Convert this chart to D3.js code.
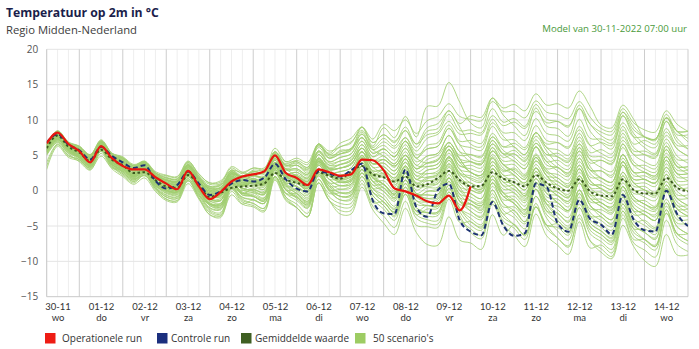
<!DOCTYPE html>
<html><head><meta charset="utf-8">
<script src="https://cdn.jsdelivr.net/npm/d3@7"></script>
<style>
body{margin:0;background:#fff;}
svg text{font-family:'Open Sans',sans-serif;}
</style>
</head><body>
<svg id="chart" width="699" height="349"></svg>
<script>
// ---------------- DATA ----------------
const titleText = "Temperatuur op 2m in °C";
const subtitleText = "Regio Midden-Nederland";
const modelText = "Model van 30-11-2022 07:00 uur";
const dayLabels = ["30-11","01-12","02-12","03-12","04-12","05-12","06-12","07-12","08-12","09-12","10-12","11-12","12-12","13-12","14-12"];
const weekdayLabels = ["wo","do","vr","za","zo","ma","di","wo","do","vr","za","zo","ma","di","wo"];
const yTicks = [-15,-10,-5,0,5,10,15,20];
const legendLabels = ["Operationele run","Controle run","Gemiddelde waarde","50 scenario's"];
// values every 6 hours, starting 30-11 06:00
const operationalRun = [6.7,8.2,6.6, 5.6,4.0,6.3,4.6, 3.5,3.0,3.0,1.9, 1.0,0.2,2.8,0.6, -1.2,-0.2,1.3,2.0, 2.3,2.7,5.0,2.5, 1.8,0.8,3.0,2.6, 2.1,2.3,4.4,4.3, 2.9,0.3,-0.1,-0.7, -1.5,-1.8,-0.7,-2.8, 0.6];
const controlRun = [6.8,8.0,6.5, 5.7,4.4,6.2,4.9, 4.0,3.2,3.6,1.4, 0.3,0.8,2.7,1.0, -0.6,-0.1,1.0,1.5, 1.3,1.8,3.8,1.6, 0.3,-0.1,2.8,2.4, 2.0,2.9,3.8,-1.4, -3.2,-3.3,3.0,-2.3, -3.7,0.1,1.0,-4.2, -5.8,-6.3,-1.6,-4.9, -6.4,-6.0,1.0,0.5, -4.6,-5.8,-1.3,-4.0, -4.8,-6.2,-0.6,-4.1, -5.6,-5.8,0.0,-3.3, -5.0];
const meanValues = [6.0,7.8,6.2, 5.4,4.2,5.8,4.4, 3.6,2.5,2.6,1.5, 0.6,0.4,2.2,0.8, -0.9,-0.3,0.4,0.6, 0.7,1.0,2.5,1.6, 1.1,0.8,2.6,2.1, 1.7,2.7,3.5,2.3, 1.9,1.3,2.0,0.6, 0.9,1.8,2.8,1.5, 0.6,0.7,2.6,1.7, 1.2,0.6,2.2,1.1, 0.3,0.0,1.6,-0.1, -0.7,-0.8,1.6,0.1, -0.4,-0.4,1.8,0.4, -0.1];
const scenarios = [
[6.3,8.1,6.5, 5.9,4.7,6.8,4.9, 4.4,3.3,3.9,2.3, 1.6,1.4,3.7,1.8, 0.3,0.4,2.6,1.8, 2.2,2.0,5.0,3.1, 3.1,2.3,5.6,4.1, 4.7,5.2,7.5,5.3, 5.9,4.8,7.0,4.6, 5.9,6.3,8.8,6.5, 6.1,5.7,9.1,7.2, 7.2,6.1,9.2,7.1, 6.8,6.0,9.1,6.4, 5.3,4.7,8.6,6.1, 5.1,4.6,8.3,5.9, 4.9],
[5.6,7.4,5.8, 4.8,3.6,6.2,3.8, 2.6,1.5,2.6,0.5, -0.9,-1.1,1.7,-0.7, -2.9,-3.3,0.4,-1.4, -1.8,-2.5,2.0,-0.9, -1.9,-3.2,1.6,-0.9, -1.8,-1.8,2.0,-1.2, -2.6,-4.2,-0.5,-3.9, -4.6,-4.7,-0.7,-4.0, -5.4,-6.3,-1.4,-4.3, -5.3,-6.9,-2.3,-5.4, -6.7,-8.0,-3.4,-7.1, -8.2,-9.3,-3.9,-7.4, -8.4,-9.4,-4.2,-7.6, -8.6],
[6.2,8.0,6.4, 5.7,4.5,6.9,4.7, 4.1,3.0,3.9,2.0, 1.1,0.9,3.5,1.3, -0.1,-0.3,2.7,1.4, 2.2,1.7,5.5,3.1, 3.6,2.5,6.6,4.6, 5.7,5.9,9.0,6.3, 8.9,7.5,10.5,7.6, 11.9,12.0,15.3,12.5, 9.6,8.9,13.1,10.7, 9.2,7.8,11.7,9.1, 8.8,7.7,11.6,8.4, 6.8,5.9,10.6,7.6, 6.1,5.3,9.8,6.9, 5.9],
[5.8,7.6,6.0, 5.1,3.9,6.0,4.1, 3.8,2.7,3.3,1.7, 1.1,0.9,3.2,1.3, -0.1,0.0,2.2,1.4, 1.2,1.0,4.0,2.1, 1.1,0.3,3.6,2.1, 1.2,1.7,4.0,1.8, 0.9,-0.2,2.0,-0.4, -1.1,-0.7,1.8,-0.5, -1.9,-2.3,1.1,-0.8, -1.8,-2.9,0.2,-1.9, -2.2,-3.0,0.1,-2.6, -2.7,-3.3,0.6,-1.9, -2.9,-3.4,0.3,-2.1, -3.1],
[6.5,8.3,6.7, 6.2,5.0,6.9,5.2, 4.6,3.5,3.9,2.5, 1.8,1.6,3.7,2.0, 0.6,0.9,2.4,2.1, 2.7,2.7,5.0,3.6, 3.6,3.0,5.6,4.6, 5.2,5.9,7.5,5.8, 6.9,6.0,7.5,5.6, 7.4,8.0,9.8,8.0, 8.1,7.9,10.6,9.2, 9.7,8.8,11.2,9.6, 9.8,9.2,11.6,9.4, 8.3,7.9,11.1,9.1, 7.6,7.3,10.3,8.4, 7.4],
[4.0,6.6,5.0, 4.4,3.2,5.6,3.4, 2.4,1.3,2.2,0.3, -0.9,-1.1,1.5,-0.7, -1.9,-2.1,0.9,-0.4, 0.2,-0.3,3.5,1.1, 1.1,0.0,4.1,2.1, 2.2,2.4,5.5,2.8, 2.9,1.5,4.5,1.6, 2.4,2.5,5.8,3.0, 2.6,1.9,6.1,3.7, 3.7,2.3,6.2,3.6, 3.3,2.2,6.1,2.9, 2.8,1.9,6.6,3.6, 2.6,1.8,6.3,3.4, 2.4],
[6.4,8.2,6.6, 5.6,4.4,7.0,4.6, 3.6,2.5,3.6,1.5, 0.3,0.1,2.9,0.5, -1.4,-1.8,1.9,0.1, -0.3,-1.0,3.5,0.6, -0.4,-1.7,3.1,0.6, -0.3,-0.3,3.5,0.3, -0.6,-2.2,1.5,-1.9, -2.1,-2.2,1.8,-1.5, -2.9,-3.8,1.1,-1.8, -2.8,-4.4,0.2,-2.9, -4.2,-5.5,-0.9,-4.6, -5.7,-6.8,-1.4,-4.9, -5.9,-6.9,-1.7,-5.1, -6.1],
[5.5,7.3,5.7, 4.6,3.4,6.0,3.6, 2.4,1.3,2.4,0.3, -1.2,-1.4,1.4,-1.0, -3.4,-3.8,-0.1,-1.9, -2.3,-3.0,1.5,-1.4, -2.4,-3.7,1.1,-1.4, -2.8,-2.8,1.0,-2.2, -3.6,-5.2,-1.5,-4.9, -5.1,-5.2,-1.2,-4.5, -4.4,-5.3,-0.4,-3.3, -2.8,-4.4,0.2,-2.9, -3.2,-4.5,0.1,-3.6, -3.7,-4.8,0.6,-2.9, -4.4,-5.4,-0.2,-3.6, -5.1],
[6.6,8.4,6.8, 6.2,5.0,7.1,5.2, 4.1,3.0,3.6,2.0, 0.9,0.7,3.0,1.1, -0.3,-0.2,2.0,1.2, 1.7,1.5,4.5,2.6, 1.6,0.8,4.1,2.6, 1.7,2.2,4.5,2.3, 2.4,1.3,3.5,1.1, 1.9,2.3,4.8,2.5, 2.1,1.7,5.1,3.2, 2.2,1.1,4.2,2.1, 0.8,0.0,3.1,0.4, -0.7,-1.3,2.6,0.1, 0.1,-0.4,3.3,0.9, 0.9],
[6.0,7.8,6.2, 5.2,4.0,6.1,4.2, 3.1,2.0,2.6,1.0, 0.1,-0.1,2.2,0.3, -0.9,-0.8,1.4,0.6, 1.2,1.0,4.0,2.1, 2.1,1.3,4.6,3.1, 3.7,4.2,6.5,4.3, 4.9,3.8,6.0,3.6, 4.9,5.3,7.8,5.5, 4.1,3.7,7.1,5.2, 4.2,3.1,6.2,4.1, 4.3,3.5,6.6,3.9, 4.3,3.7,7.6,5.1, 4.1,3.6,7.3,4.9, 3.9],
[5.2,7.0,5.4, 4.9,3.7,6.1,3.9, 3.4,2.3,3.2,1.3, 0.6,0.4,3.0,0.8, -1.2,-1.4,1.6,0.3, -0.1,-0.6,3.2,0.8, -0.4,-1.5,2.6,0.6, -0.8,-0.6,2.5,-0.2, -1.6,-3.0,0.0,-2.9, -3.6,-3.5,-0.2,-3.0, -4.9,-5.6,-1.4,-3.8, -4.8,-6.2,-2.3,-4.9, -5.2,-6.3,-2.4,-5.6, -6.7,-7.6,-2.9,-5.9, -6.9,-7.7,-3.2,-6.1, -7.1],
[6.2,8.0,6.4, 5.8,4.6,6.7,4.8, 4.4,3.3,3.9,2.3, 1.8,1.6,3.9,2.0, 0.9,1.0,3.2,2.4, 3.2,3.0,6.0,4.1, 4.1,3.3,6.6,5.1, 5.2,5.7,8.0,5.8, 4.9,3.8,6.0,3.6, 3.4,3.8,6.3,4.0, 2.6,2.2,5.6,3.7, 2.7,1.6,4.7,2.6, 1.3,0.5,3.6,0.9, 0.8,0.2,4.1,1.6, 1.6,1.1,4.8,2.4, 2.4],
[5.7,7.5,5.9, 5.4,4.2,6.6,4.4, 3.9,2.8,3.7,1.8, 1.2,1.0,3.6,1.4, 0.1,-0.1,2.9,1.6, 1.5,1.0,4.8,2.4, 1.4,0.3,4.4,2.4, 1.4,1.6,4.7,2.0, 0.9,-0.5,2.5,-0.4, -0.6,-0.5,2.8,0.0, -0.4,-1.1,3.1,0.7, 0.7,-0.7,3.2,0.6, 0.3,-0.8,3.1,-0.1, -0.2,-1.1,3.6,0.6, 0.6,-0.2,4.3,1.4, 1.4],
[6.1,7.9,6.3, 5.1,3.9,6.3,4.1, 3.0,1.9,2.8,0.9, -0.4,-0.6,2.0,-0.2, -2.4,-2.6,0.4,-0.9, -1.3,-1.8,2.0,-0.4, -0.9,-2.0,2.1,0.1, 0.2,0.4,3.5,0.8, 0.9,-0.5,2.5,-0.4, 0.4,0.5,3.8,1.0, -0.4,-1.1,3.1,0.7, -0.3,-1.7,2.2,-0.4, -1.7,-2.8,1.1,-2.1, -3.2,-4.1,0.6,-2.4, -3.4,-4.2,0.3,-2.6, -3.6],
[3.0,6.3,4.7, 4.2,3.0,4.9,3.2, 2.8,1.7,2.1,0.7, 0.1,-0.1,2.0,0.3, -0.9,-0.6,0.9,0.6, 1.2,1.2,3.5,2.1, 2.1,1.5,4.1,3.1, 3.2,3.9,5.5,3.8, 4.4,3.5,5.0,3.1, 4.4,5.0,6.8,5.0, 5.1,4.9,7.6,6.2, 6.7,5.8,8.2,6.6, 6.8,6.2,8.6,6.4, 6.8,6.4,9.6,7.6, 7.6,7.3,10.3,8.4, 8.4],
[6.5,8.3,6.7, 5.7,4.5,6.6,4.7, 3.6,2.5,3.1,1.5, 0.4,0.2,2.5,0.6, -0.7,-0.6,1.6,0.8, 1.5,1.3,4.3,2.4, 2.6,1.8,5.1,3.6, 4.2,4.7,7.0,4.8, 5.9,4.8,7.0,4.6, 6.4,6.8,9.3,7.0, 7.1,6.7,10.1,8.2, 8.2,7.1,10.2,8.1, 7.8,7.0,10.1,7.4, 7.3,6.7,10.6,8.1, 6.6,6.1,9.8,7.4, 5.9],
[5.4,7.2,5.6, 4.6,3.4,5.8,3.6, 3.0,1.9,2.8,0.9, 0.3,0.1,2.7,0.5, -1.7,-1.9,1.1,-0.2, -0.8,-1.3,2.5,0.1, -0.9,-2.0,2.1,0.1, -1.3,-1.1,2.0,-0.7, -2.1,-3.5,-0.5,-3.4, -2.6,-2.5,0.8,-2.0, -1.9,-2.6,1.6,-0.8, -0.8,-2.2,1.7,-0.9, -1.2,-2.3,1.6,-1.6, -1.7,-2.6,2.1,-0.9, -1.9,-2.7,1.8,-1.1, -2.1],
[6.3,8.1,6.5, 6.0,4.8,6.9,5.0, 4.5,3.4,4.0,2.4, 1.2,1.0,3.3,1.4, -0.6,-0.5,1.7,0.9, 0.7,0.5,3.5,1.6, 0.6,-0.2,3.1,1.6, 0.7,1.2,3.5,1.3, 0.4,-0.7,1.5,-0.9, -0.1,0.3,2.8,0.5, 0.1,-0.3,3.1,1.2, 1.2,0.1,3.2,1.1, 0.8,0.0,3.1,0.4, 0.3,-0.3,3.6,1.1, 0.1,-0.4,3.3,0.9, -0.1],
[5.8,7.6,6.0, 5.0,3.8,6.4,4.0, 2.8,1.7,2.8,0.7, -0.6,-0.8,2.0,-0.4, -2.7,-3.1,0.6,-1.2, -1.8,-2.5,2.0,-0.9, -2.4,-3.7,1.1,-1.4, -3.3,-3.3,0.5,-2.7, -4.6,-6.2,-2.5,-5.9, -7.6,-7.7,-3.7,-7.0, -7.4,-8.3,-3.4,-6.3, -4.8,-6.4,-1.8,-4.9, -4.7,-6.0,-1.4,-5.1, -6.2,-7.3,-1.9,-5.4, -6.9,-7.9,-2.7,-6.1, -7.1],
[6.2,8.0,6.4, 5.9,4.7,6.8,4.9, 4.6,3.5,4.1,2.5, 2.1,1.9,4.2,2.3, 1.1,1.2,3.4,2.6, 2.2,2.0,5.0,3.1, 2.1,1.3,4.6,3.1, 3.2,3.7,6.0,3.8, 4.4,3.3,5.5,3.1, 3.9,4.3,6.8,4.5, 2.6,2.2,5.6,3.7, 2.2,1.1,4.2,2.1, 0.3,-0.5,2.6,-0.1, -1.7,-2.3,1.6,-0.9, -1.9,-2.4,1.3,-1.1, -2.1],
[5.6,7.4,5.8, 5.2,4.0,6.1,4.2, 3.8,2.7,3.3,1.7, 1.2,1.0,3.3,1.4, 0.3,0.4,2.6,1.8, 2.7,2.5,5.5,3.6, 4.1,3.3,6.6,5.1, 6.2,6.7,9.0,6.8, 7.9,6.8,9.0,6.6, 7.9,8.3,10.8,8.5, 8.6,8.2,11.6,9.7, 10.2,9.1,12.2,10.1, 9.8,9.0,12.1,9.4, 7.8,7.2,11.1,8.6, 7.6,7.1,10.8,8.4, 8.4],
[6.0,7.8,6.2, 5.6,4.4,6.5,4.6, 3.9,2.8,3.4,1.8, 0.7,0.5,2.8,0.9, -1.2,-1.1,1.1,0.3, 0.1,-0.1,2.9,1.0, 0.1,-0.7,2.6,1.1, 0.2,0.7,3.0,0.8, -0.1,-1.2,1.0,-1.4, -1.6,-1.2,1.3,-1.0, -1.4,-1.8,1.6,-0.3, -0.3,-1.4,1.7,-0.4, -0.7,-1.5,1.6,-1.1, -2.2,-2.8,1.1,-1.4, -2.4,-2.9,0.8,-1.6, -2.6],
[5.0,6.8,5.2, 4.1,2.9,5.3,3.1, 2.0,0.9,1.8,-0.1, -1.4,-1.6,1.0,-1.2, -3.4,-3.6,-0.6,-1.9, -1.3,-1.8,2.0,-0.4, -0.4,-1.5,2.6,0.6, 0.7,0.9,4.0,1.3, 1.4,0.0,3.0,0.1, 0.9,1.0,4.3,1.5, 1.1,0.4,4.6,2.2, 2.2,0.8,4.7,2.1, 1.8,0.7,4.6,1.4, 0.3,-0.6,4.1,1.1, 0.1,-0.7,3.8,0.9, -0.1],
[6.7,8.5,6.9, 6.3,5.1,7.2,5.3, 4.7,3.6,4.2,2.6, 1.4,1.2,3.5,1.6, -0.4,-0.3,1.9,1.1, 0.9,0.7,3.7,1.8, 1.6,0.8,4.1,2.6, 2.7,3.2,5.5,3.3, 3.4,2.3,4.5,2.1, 2.9,3.3,5.8,3.5, 3.1,2.7,6.1,4.2, 4.2,3.1,6.2,4.1, 2.8,2.0,5.1,2.4, 1.3,0.7,4.6,2.1, 2.1,1.6,5.3,2.9, 2.9],
[5.7,7.5,5.9, 4.9,3.7,6.1,3.9, 3.3,2.2,3.1,1.2, 0.6,0.4,3.0,0.8, -0.4,-0.6,2.4,1.1, 1.7,1.2,5.0,2.6, 1.6,0.5,4.6,2.6, 1.2,1.4,4.5,1.8, 0.4,-1.0,2.0,-0.9, -1.6,-1.5,1.8,-1.0, -2.9,-3.6,0.6,-1.8, -3.3,-4.7,-0.8,-3.4, -4.7,-5.8,-1.9,-5.1, -6.2,-7.1,-2.4,-5.4, -5.4,-6.2,-1.7,-4.6, -4.6],
[6.1,7.9,6.3, 5.5,4.3,6.4,4.5, 3.4,2.3,2.9,1.3, 0.1,-0.1,2.2,0.3, -1.9,-1.8,0.4,-0.4, -0.3,-0.5,2.5,0.6, 0.6,-0.2,3.1,1.6, 1.7,2.2,4.5,2.3, 2.9,1.8,4.0,1.6, 2.9,3.3,5.8,3.5, 3.6,3.2,6.6,4.7, 5.2,4.1,7.2,5.1, 5.3,4.5,7.6,4.9, 4.8,4.2,8.1,5.6, 5.6,5.1,8.8,6.4, 6.4],
[5.3,7.1,5.5, 4.4,3.2,5.8,3.4, 2.2,1.1,2.2,0.1, -1.2,-1.4,1.4,-1.0, -3.1,-3.5,0.2,-1.6, -2.1,-2.8,1.7,-1.2, -2.4,-3.7,1.1,-1.4, -2.3,-2.3,1.5,-1.7, -1.6,-3.2,0.5,-2.9, -2.1,-2.2,1.8,-1.5, -1.9,-2.8,2.1,-0.8, -1.8,-3.4,1.2,-1.9, -3.7,-5.0,-0.4,-4.1, -5.2,-6.3,-0.9,-4.4, -4.2,-5.2,0.0,-3.4, -3.6],
[6.4,8.2,6.6, 6.1,4.9,7.0,5.1, 4.6,3.5,4.1,2.5, 1.9,1.7,4.0,2.1, 0.1,0.2,2.4,1.6, 1.2,1.0,4.0,2.1, 1.1,0.3,3.6,2.1, 2.2,2.7,5.0,2.8, 2.9,1.8,4.0,1.6, 1.4,1.8,4.3,2.0, 0.6,0.2,3.6,1.7, 0.7,-0.4,2.7,0.6, -0.7,-1.5,1.6,-1.1, -1.2,-1.8,2.1,-0.4, -0.4,-0.9,2.8,0.4, 0.4],
[5.9,7.7,6.1, 5.5,4.3,6.4,4.5, 4.0,2.9,3.5,1.9, 1.4,1.2,3.5,1.6, 0.3,0.4,2.6,1.8, 2.5,2.3,5.3,3.4, 3.6,2.8,6.1,4.6, 5.2,5.7,8.0,5.8, 6.4,5.3,7.5,5.1, 5.9,6.3,8.8,6.5, 4.6,4.2,7.6,5.7, 4.7,3.6,6.7,4.6, 3.3,2.5,5.6,2.9, 1.8,1.2,5.1,2.6, 2.6,2.1,5.8,3.4, 3.4],
[6.3,8.1,6.5, 5.4,4.2,6.8,4.4, 3.2,2.1,3.2,1.1, -0.2,-0.4,2.4,0.0, -2.1,-2.5,1.2,-0.6, -0.8,-1.5,3.0,0.1, -0.9,-2.2,2.6,0.1, -0.8,-0.8,3.0,-0.2, -1.1,-2.7,1.0,-2.4, -3.1,-3.2,0.8,-2.5, -3.9,-4.8,0.1,-2.8, -3.8,-5.4,-0.8,-3.9, -5.7,-7.0,-2.4,-6.1, -7.2,-8.3,-2.9,-6.4, -7.4,-8.4,-3.2,-6.6, -7.6],
[5.5,7.3,5.7, 5.1,3.9,6.0,4.1, 3.6,2.5,3.1,1.5, 0.4,0.2,2.5,0.6, -1.5,-1.4,0.8,0.0, 0.4,0.2,3.2,1.3, 1.4,0.6,3.9,2.4, 2.7,3.2,5.5,3.3, 2.4,1.3,3.5,1.1, 0.9,1.3,3.8,1.5, 0.1,-0.3,3.1,1.2, 0.2,-0.9,2.2,0.1, -0.2,-1.0,2.1,-0.6, -0.7,-1.3,2.6,0.1, -0.9,-1.4,2.3,-0.1, -1.1],
[6.6,8.4,6.8, 5.8,4.6,6.5,4.8, 4.2,3.1,3.5,2.1, 1.5,1.3,3.4,1.7, 0.5,0.8,2.3,2.0, 2.9,2.9,5.2,3.8, 4.3,3.7,6.3,5.3, 6.7,7.4,9.0,7.3, 9.4,8.5,10.0,8.1, 9.9,10.5,12.3,10.5, 10.1,9.9,12.6,11.2, 11.2,10.3,12.7,11.1, 10.8,10.2,12.6,10.4, 8.8,8.4,11.6,9.6, 8.6,8.3,11.3,9.4, 8.4],
[5.8,7.6,6.0, 4.8,3.6,6.0,3.8, 2.6,1.5,2.4,0.5, -0.7,-0.9,1.7,-0.5, -2.5,-2.7,0.3,-1.0, -1.3,-1.8,2.0,-0.4, -1.4,-2.5,1.6,-0.4, -0.3,-0.1,3.0,0.3, 0.4,-1.0,2.0,-0.9, -0.1,0.0,3.3,0.5, -1.4,-2.1,2.1,-0.3, -1.8,-3.2,0.7,-1.9, -3.2,-4.3,-0.4,-3.6, -4.7,-5.6,-0.9,-3.9, -4.9,-5.7,-1.2,-4.1, -4.1],
[6.2,8.0,6.4, 5.7,4.5,6.6,4.7, 4.2,3.1,3.7,2.1, 1.5,1.3,3.6,1.7, -0.3,-0.2,2.0,1.2, 1.0,0.8,3.8,1.9, 1.9,1.1,4.4,2.9, 3.2,3.7,6.0,3.8, 3.9,2.8,5.0,2.6, 2.4,2.8,5.3,3.0, 1.6,1.2,4.6,2.7, 3.2,2.1,5.2,3.1, 3.3,2.5,5.6,2.9, 2.8,2.2,6.1,3.6, 3.6,3.1,6.8,4.4, 4.4],
[5.1,6.9,5.3, 4.7,3.5,5.9,3.7, 3.1,2.0,2.9,1.0, 0.4,0.2,2.8,0.6, -0.7,-0.9,2.1,0.8, 1.3,0.8,4.6,2.2, 2.1,1.0,5.1,3.1, 1.7,1.9,5.0,2.3, 0.9,-0.5,2.5,-0.4, -1.1,-1.0,2.3,-0.5, -0.9,-1.6,2.6,0.2, 0.2,-1.2,2.7,0.1, -1.7,-2.8,1.1,-2.1, -3.7,-4.6,0.1,-2.9, -2.9,-3.7,0.8,-2.1, -2.1],
[6.0,7.8,6.2, 5.7,4.5,6.9,4.7, 4.2,3.1,4.0,2.1, 0.8,0.6,3.2,1.0, -1.1,-1.3,1.7,0.4, 0.0,-0.5,3.3,0.9, -0.1,-1.2,2.9,0.9, -0.3,-0.1,3.0,0.3, -1.1,-2.5,0.5,-2.4, -3.1,-3.0,0.3,-2.5, -4.4,-5.1,-0.9,-3.3, -4.8,-6.2,-2.3,-4.9, -6.7,-7.8,-3.9,-7.1, -8.7,-9.6,-4.9,-7.9, -9.9,-10.7,-6.2,-9.1, -9.1],
[6.4,8.2,6.6, 6.0,4.8,6.9,5.0, 4.0,2.9,3.5,1.9, 1.2,1.0,3.3,1.4, 0.1,0.2,2.4,1.6, 2.0,1.8,4.8,2.9, 2.9,2.1,5.4,3.9, 4.2,4.7,7.0,4.8, 5.4,4.3,6.5,4.1, 4.9,5.3,7.8,5.5, 5.1,4.7,8.1,6.2, 6.2,5.1,8.2,6.1, 4.8,4.0,7.1,4.4, 3.3,2.7,6.6,4.1, 3.1,2.6,6.3,3.9, 2.9],
[5.4,7.2,5.6, 5.0,3.8,5.9,4.0, 3.5,2.4,3.0,1.4, 0.9,0.7,3.0,1.1, -0.1,0.0,2.2,1.4, 2.1,1.9,4.9,3.0, 3.1,2.3,5.6,4.1, 4.7,5.2,7.5,5.3, 5.9,4.8,7.0,4.6, 3.9,4.3,6.8,4.5, 2.6,2.2,5.6,3.7, 2.7,1.6,4.7,2.6, 2.3,1.5,4.6,1.9, 1.8,1.2,5.1,2.6, 2.6,2.1,5.8,3.4, 3.4],
[6.1,7.9,6.3, 5.3,4.1,6.5,4.3, 3.2,2.1,3.0,1.1, -0.1,-0.3,2.3,0.1, -1.9,-2.1,0.9,-0.4, 0.2,-0.3,3.5,1.1, 1.1,0.0,4.1,2.1, 1.2,1.4,4.5,1.8, 0.9,-0.5,2.5,-0.4, -0.6,-0.5,2.8,0.0, -1.4,-2.1,2.1,-0.3, -1.3,-2.7,1.2,-1.4, -2.7,-3.8,0.1,-3.1, -4.2,-5.1,-0.4,-3.4, -3.4,-4.2,0.3,-2.6, -2.6],
[5.7,7.5,5.9, 5.5,4.3,6.4,4.5, 4.1,3.0,3.6,2.0, 1.5,1.3,3.6,1.7, 0.4,0.5,2.7,1.9, 1.7,1.5,4.5,2.6, 1.7,0.9,4.2,2.7, 2.0,2.5,4.8,2.6, 1.9,0.8,3.0,0.6, 0.6,1.0,3.5,1.2, 0.6,0.2,3.6,1.7, 1.7,0.6,3.7,1.6, 1.3,0.5,3.6,0.9, 0.8,0.2,4.1,1.6, 1.6,1.1,4.8,2.4, 2.4],
[6.5,8.3,6.7, 5.6,4.4,7.0,4.6, 3.4,2.3,3.4,1.3, 0.0,-0.2,2.6,0.2, -1.9,-2.3,1.4,-0.4, -0.8,-1.5,3.0,0.1, -1.1,-2.4,2.4,-0.1, -1.3,-1.3,2.5,-0.7, -2.1,-3.7,0.0,-3.4, -4.1,-4.2,-0.2,-3.5, -5.9,-6.8,-1.9,-4.8, -6.3,-7.9,-3.3,-6.4, -7.7,-9.0,-4.4,-8.1, -7.7,-8.8,-3.4,-6.9, -6.9,-7.9,-2.7,-6.1, -6.1],
[5.9,7.7,6.1, 5.6,4.4,6.3,4.6, 4.1,3.0,3.4,2.0, 1.0,0.8,2.9,1.2, -0.7,-0.4,1.1,0.8, 1.3,1.3,3.6,2.2, 2.3,1.7,4.3,3.3, 3.7,4.4,6.0,4.3, 4.4,3.5,5.0,3.1, 3.9,4.5,6.3,4.5, 4.1,3.9,6.6,5.2, 5.2,4.3,6.7,5.1, 4.8,4.2,6.6,4.4, 4.3,3.9,7.1,5.1, 5.1,4.8,7.8,5.9, 4.9],
[3.5,6.5,4.9, 4.4,3.2,5.6,3.4, 2.9,1.8,2.7,0.8, -0.3,-0.5,2.1,-0.1, -2.1,-2.3,0.7,-0.6, -0.8,-1.3,2.5,0.1, 0.1,-1.0,3.1,1.1, 1.2,1.4,4.5,1.8, 1.9,0.5,3.5,0.6, 1.4,1.5,4.8,2.0, 0.6,-0.1,4.1,1.7, 0.7,-0.7,3.2,0.6, -0.7,-1.8,2.1,-1.1, -2.2,-3.1,1.6,-1.4, -1.4,-2.2,2.3,-0.6, -0.6],
[6.3,8.1,6.5, 5.9,4.7,6.8,4.9, 3.9,2.8,3.4,1.8, 0.6,0.4,2.7,0.8, -0.5,-0.4,1.8,1.0, 1.5,1.3,4.3,2.4, 2.6,1.8,5.1,3.6, 3.7,4.2,6.5,4.3, 3.4,2.3,4.5,2.1, 1.9,2.3,4.8,2.5, 1.1,0.7,4.1,2.2, 1.2,0.1,3.2,1.1, -0.2,-1.0,2.1,-0.6, -1.7,-2.3,1.6,-0.9, -1.9,-2.4,1.3,-1.1, -1.1],
[5.6,7.4,5.8, 4.8,3.6,6.0,3.8, 2.7,1.6,2.5,0.6, 0.0,-0.2,2.4,0.2, -1.2,-1.4,1.6,0.3, 0.7,0.2,4.0,1.6, 0.6,-0.5,3.6,1.6, 0.7,0.9,4.0,1.3, -0.1,-1.5,1.5,-1.4, -2.1,-2.0,1.3,-1.5, -2.4,-3.1,1.1,-1.3, -1.3,-2.7,1.2,-1.4, -1.7,-2.8,1.1,-2.1, -3.2,-4.1,0.6,-2.4, -3.4,-4.2,0.3,-2.6, -3.6],
[6.2,8.0,6.4, 5.8,4.6,6.7,4.8, 4.3,3.2,3.8,2.2, 1.6,1.4,3.7,1.8, 0.6,0.7,2.9,2.1, 2.7,2.5,5.5,3.6, 3.9,3.1,6.4,4.9, 5.5,6.0,8.3,6.1, 7.4,6.3,8.5,6.1, 8.4,8.8,11.3,9.0, 6.6,6.2,9.6,7.7, 6.2,5.1,8.2,6.1, 5.8,5.0,8.1,5.4, 5.8,5.2,9.1,6.6, 7.1,6.6,10.3,7.9, 7.9],
[5.8,7.6,6.0, 5.0,3.8,5.9,4.0, 3.3,2.2,2.8,1.2, 0.5,0.3,2.6,0.7, -0.7,-0.6,1.6,0.8, 1.1,0.9,3.9,2.0, 1.3,0.5,3.8,2.3, 1.5,2.0,4.3,2.1, 2.2,1.1,3.3,0.9, 1.7,2.1,4.6,2.3, 1.8,1.4,4.8,2.9, 3.0,1.9,5.0,2.9, 1.8,1.0,4.1,1.4, 0.3,-0.3,3.6,1.1, 1.1,0.6,4.3,1.9, 1.9],
[6.1,7.9,6.3, 5.4,4.2,6.6,4.4, 3.3,2.2,3.1,1.2, 0.0,-0.2,2.4,0.2, -1.8,-2.0,1.0,-0.3, -0.6,-1.1,2.7,0.3, -0.7,-1.8,2.3,0.3, -0.8,-0.6,2.5,-0.2, -1.6,-3.0,0.0,-2.9, -3.1,-3.0,0.3,-2.5, -3.4,-4.1,0.1,-2.3, -2.3,-3.7,0.2,-2.4, -4.2,-5.3,-1.4,-4.6, -5.7,-6.6,-1.9,-4.9, -5.9,-6.7,-2.2,-5.1, -6.1],
[5.5,7.3,5.7, 4.7,3.5,5.6,3.7, 3.1,2.0,2.6,1.0, 0.4,0.2,2.5,0.6, -0.8,-0.7,1.5,0.7, 1.2,1.0,4.0,2.1, 2.1,1.3,4.6,3.1, 3.2,3.7,6.0,3.8, 3.9,2.8,5.0,2.6, 3.4,3.8,6.3,4.0, 4.1,3.7,7.1,5.2, 5.7,4.6,7.7,5.6, 3.8,3.0,6.1,3.4, 1.8,1.2,5.1,2.6, 1.6,1.1,4.8,2.4, 1.4],
[6.6,8.4,6.8, 6.3,5.1,7.0,5.3, 4.8,3.7,4.1,2.7, 2.2,2.0,4.1,2.4, 1.1,1.4,2.9,2.6, 3.2,3.2,5.5,4.1, 4.6,4.0,6.6,5.6, 6.2,6.9,8.5,6.8, 7.9,7.0,8.5,6.6, 8.9,9.5,11.3,9.5, 10.6,10.4,13.1,11.7, 12.2,11.3,13.7,12.1, 12.3,11.7,14.1,11.9, 9.3,8.9,12.1,10.1, 7.6,7.3,10.3,8.4, 6.9]
];

// ---------------- LAYOUT ----------------
const stepHours = 6;
const startTime = Date.UTC(2022, 10, 30, 6);
const endTime = Date.UTC(2022, 11, 15, 0);
const plot = {left: 46.7, right: 688, top: 49.3, bottom: 296.7};
const col = {
  red: "#e8160f", blue: "#1d3272", mean: "#3c5a1f", ens: "#a2cf72",
  legRed: "#ee1c14", legBlue: "#1b2f7e", legMean: "#3f5f22", legEns: "#9dcc63",
  gridMinor: "#eeeeee", gridMajor: "#cdcdcd", gridH: "#e4e4e4", axis: "#c8c8c8"
};

const svg = d3.select("#chart");
const x = d3.scaleUtc().domain([new Date(startTime), new Date(endTime)]).range([plot.left, plot.right]);
const y = d3.scaleLinear().domain([-15, 20]).range([plot.bottom, plot.top]);
const timeAt = i => new Date(startTime + i * stepHours * 3600e3);

function fitWidth(sel, target) {
  const w = sel.node().getComputedTextLength();
  const fs = parseFloat(sel.attr("font-size"));
  if (w > 0) sel.attr("font-size", (fs * target / w).toFixed(2));
}

// ---- grid ----
const grid = svg.append("g");
const sixHours = d3.utcHour.every(6).range(new Date(startTime), new Date(endTime + 1));
grid.selectAll("line.minor").data(sixHours.filter(d => d.getUTCHours() !== 0)).join("line")
  .attr("x1", d => x(d)).attr("x2", d => x(d)).attr("y1", plot.top).attr("y2", plot.bottom)
  .attr("stroke", col.gridMinor).attr("stroke-width", 1);
grid.selectAll("line.h").data(yTicks.filter(v => v !== -15)).join("line")
  .attr("x1", plot.left).attr("x2", plot.right).attr("y1", d => y(d)).attr("y2", d => y(d))
  .attr("stroke", col.gridH).attr("stroke-width", 1);
grid.selectAll("line.major").data(d3.utcDay.range(new Date(startTime), new Date(endTime + 1))).join("line")
  .attr("x1", d => x(d)).attr("x2", d => x(d)).attr("y1", plot.top).attr("y2", plot.bottom)
  .attr("stroke", col.gridMajor).attr("stroke-width", 1);
grid.append("line").attr("x1", plot.left).attr("x2", plot.left).attr("y1", plot.top).attr("y2", plot.bottom)
  .attr("stroke", col.axis);
grid.append("line").attr("x1", plot.left).attr("x2", plot.right).attr("y1", y(-15)).attr("y2", y(-15))
  .attr("stroke", col.axis);

// ---- axes ----
const yAxis = svg.append("g").attr("transform", `translate(${plot.left},0)`)
  .call(d3.axisLeft(y).tickValues(yTicks).tickSize(0).tickPadding(8.5).tickFormat(d3.format("d")));
yAxis.select(".domain").remove();
yAxis.selectAll("text").attr("font-size", 10).attr("fill", "#555").style("font-family", "'Open Sans',sans-serif");

const noonDates = dayLabels.map((d, i) => new Date(Date.UTC(2022, 10, 30 + i, 12)));
const xAxisDate = svg.append("g").attr("transform", `translate(0,${plot.bottom})`)
  .call(d3.axisBottom(x).tickValues(noonDates).tickSize(0).tickPadding(0).tickFormat((d, i) => dayLabels[i]));
xAxisDate.select(".domain").remove();
xAxisDate.selectAll(".tick text").attr("y", 13).attr("dy", null).attr("font-size", 9.5).attr("fill", "#333")
  .style("font-family", "Lato,sans-serif");
const xAxisDay = svg.append("g").attr("transform", `translate(0,${plot.bottom})`)
  .call(d3.axisBottom(x).tickValues(noonDates).tickSize(0).tickPadding(0).tickFormat((d, i) => weekdayLabels[i]));
xAxisDay.select(".domain").remove();
xAxisDay.selectAll(".tick text").attr("y", 24.6).attr("dy", null).attr("font-size", 9.5).attr("fill", "#333")
  .style("font-family", "Lato,sans-serif");

// ---- lines ----
svg.append("clipPath").attr("id", "pc").append("rect")
  .attr("x", plot.left).attr("y", plot.top - 2).attr("width", plot.right - plot.left).attr("height", plot.bottom - plot.top + 2);
const line = d3.line().x((d, i) => x(timeAt(i))).y(d => y(d)).curve(d3.curveMonotoneX);
const ensLine = d3.line().x((d, i) => x(timeAt(i))).y(d => y(d)).curve(d3.curveCatmullRom.alpha(0.5));
const lines = svg.append("g").attr("clip-path", "url(#pc)");
lines.selectAll("path.ens").data(scenarios).join("path")
  .attr("d", ensLine).attr("fill", "none").attr("stroke", col.ens).attr("stroke-width", 1).attr("stroke-opacity", 0.85);
lines.append("path").datum(meanValues).attr("d", line).attr("fill", "none")
  .attr("stroke", col.mean).attr("stroke-width", 2).attr("stroke-dasharray", "2.5,2.5");
lines.append("path").datum(controlRun).attr("d", line).attr("fill", "none")
  .attr("stroke", col.blue).attr("stroke-width", 2).attr("stroke-dasharray", "5,3");
lines.append("path").datum(operationalRun).attr("d", line).attr("fill", "none")
  .attr("stroke", col.red).attr("stroke-width", 2.2);

// ---- titles ----
const title = svg.append("text").attr("x", 6).attr("y", 16.5).attr("font-size", 13).attr("font-weight", 700)
  .attr("fill", "#1b1e4b").text(titleText);
fitWidth(title, 153);
const sub = svg.append("text").attr("x", 6).attr("y", 33.5).attr("font-size", 12).attr("fill", "#3c3c3c").text(subtitleText);
fitWidth(sub, 131);
const model = svg.append("text").attr("x", 687).attr("y", 31.5).attr("font-size", 10.5).attr("text-anchor", "end")
  .attr("fill", "#4a9a3b").text(modelText);
fitWidth(model, 145);

// ---- legend ----
const legendColors = [col.legRed, col.legBlue, col.legMean, col.legEns];
const legendX = [45, 157, 241, 355];
const legendTextX = [62, 171, 255, 373];
const leg = svg.append("g");
legendLabels.forEach((lab, i) => {
  leg.append("rect").attr("x", legendX[i]).attr("y", 333).attr("width", 10.5).attr("height", 10.5).attr("fill", legendColors[i]);
  leg.append("text").attr("x", legendTextX[i]).attr("y", 342.3).attr("font-size", 10).attr("fill", "#333").text(lab);
});
</script>
</body></html>
